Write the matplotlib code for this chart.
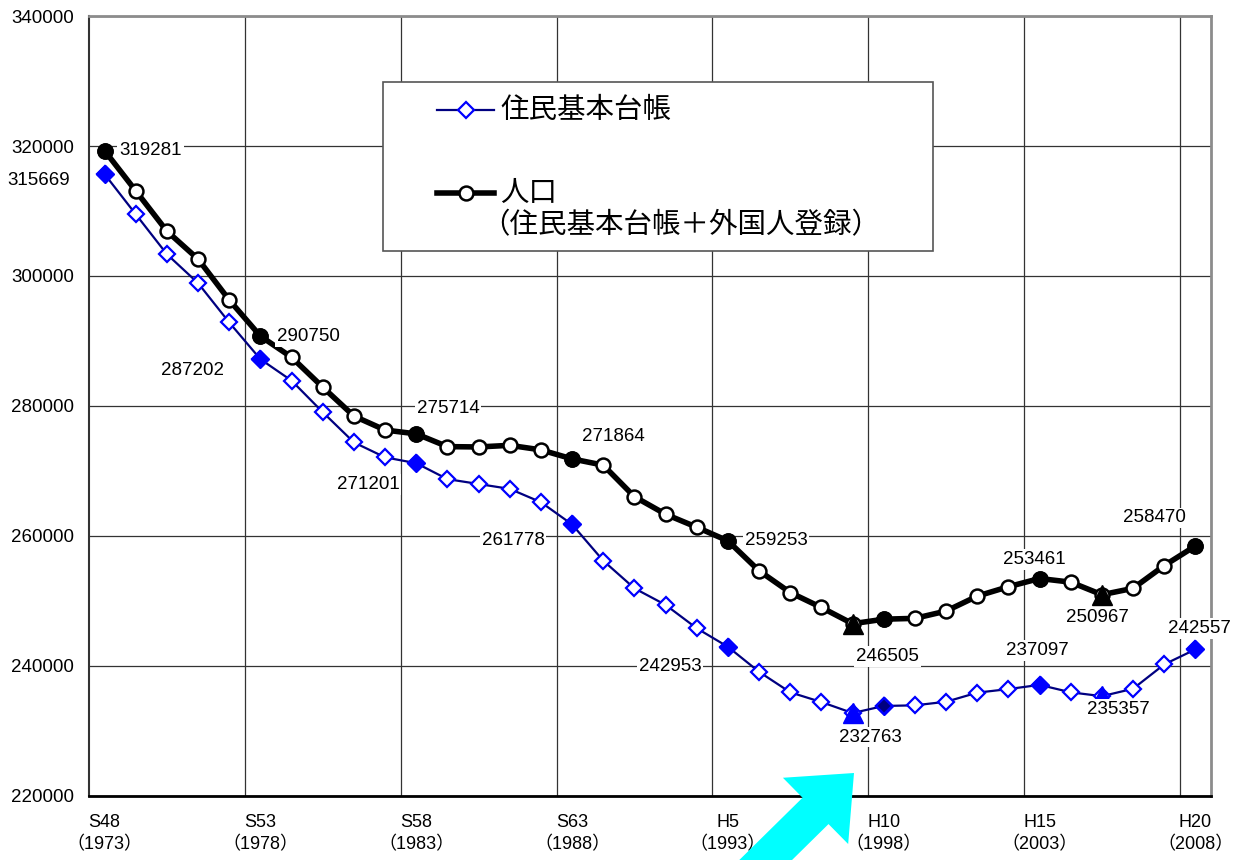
import matplotlib.pyplot as plt
import numpy as np
from matplotlib.lines import Line2D
from matplotlib.patches import FancyArrow, Rectangle

plt.rcParams["font.family"] = ["Noto Sans CJK JP", "DejaVu Sans"]
NUM_FONT = ["Liberation Sans", "Noto Sans CJK JP"]

# 年次の目盛り（5年おき）
era_labels = ["S48", "S53", "S58", "S63", "H5", "H10", "H15", "H20"]
ad_years = [1973, 1978, 1983, 1988, 1993, 1998, 2003, 2008]

# 人口（住民基本台帳＋外国人登録）S48〜H20
population = [
    319281, 313100, 306900, 302600, 296300, 290750, 287500, 282900, 278450, 276300,
    275714, 273750, 273700, 273950, 273250, 271864, 270900, 266050, 263350, 261350,
    259253, 254650, 251300, 249000, 246505, 247200, 247330, 248450, 250750, 252200,
    253461, 252900, 250967, 251950, 255450, 258470,
]

# 住民基本台帳人口 S48〜H20
registry = [
    315669, 309500, 303350, 298900, 292850, 287202, 283900, 279050, 274400, 272100,
    271201, 268750, 268000, 267250, 265200, 261778, 256200, 251950, 249400, 245800,
    242953, 239100, 235950, 234450, 232763, 233850, 233950, 234500, 235900, 236450,
    237097, 235950, 235357, 236500, 240250, 242557,
]

# 強調する点（5年おき）と谷の点
marked_idx = [0, 5, 10, 15, 20, 25, 30, 35]
low_idx = [24, 32]

# 数値ラベルの位置（点からのずれ, ピクセル）
pop_label_offsets = {0: (46, 0), 5: (48, 0), 10: (32, 25), 15: (41, 22), 20: (48, 0),
                     24: (35, -33), 30: (-5, 19), 32: (-4, -23), 35: (-41, 28)}
reg_label_offsets = {0: (-66, -6), 5: (-68, -11), 10: (-48, -21), 15: (-59, -16),
                     20: (-58, -20), 24: (18, -24), 30: (-2, 34), 32: (16, -13), 35: (4, 21)}

fig = plt.figure(figsize=(12.4, 8.6), dpi=100)
ax = fig.add_axes([89 / 1240, 1 - 796 / 860, 1122 / 1240, 780 / 860])

x = np.arange(len(population))
pop = np.array(population)
reg = np.array(registry)

# 住民基本台帳
ax.plot(x, reg, color="#000080", lw=1.6, marker="D", ms=8, mfc="white",
        mec="#0000FF", mew=1.6, zorder=4)
ax.plot(x[marked_idx], reg[marked_idx], ls="none", marker="D", ms=9,
        mfc="#0000FF", mec="#0000FF", zorder=5)
ax.plot(x[25], reg[25], ls="none", marker="D", ms=8, mfc="#000080",
        mec="#0000FF", mew=1.6, zorder=6)
ax.plot(x[low_idx], reg[low_idx], ls="none", marker="^", ms=15,
        mfc="#0000FF", mec="#0000FF", zorder=6)

# 人口（住民基本台帳＋外国人登録）
ax.plot(x, pop, color="black", lw=4, marker="o", ms=10, mfc="white",
        mec="black", mew=1.8, zorder=4)
ax.plot(x[marked_idx], pop[marked_idx], ls="none", marker="o", ms=11,
        mfc="black", mec="black", zorder=5)
ax.plot(x[low_idx], pop[low_idx], ls="none", marker="^", ms=15,
        mfc="black", mec="black", zorder=6)

label_box = dict(boxstyle="square,pad=0.1", fc="white", ec="none")
for series, offsets in ((pop, pop_label_offsets), (reg, reg_label_offsets)):
    for i, (dx, dy) in offsets.items():
        ax.annotate(f"{series[i]}", (x[i], series[i]), xytext=(dx, dy),
                    textcoords="offset pixels", ha="center", va="center",
                    fontsize=13.5, family=NUM_FONT, bbox=label_box, zorder=8)

ax.set_xlim(-0.5, len(x) - 0.5)
ax.set_ylim(220000, 340000)
ax.set_yticks(np.arange(220000, 340001, 20000))
ax.set_yticklabels([f"{v}" for v in range(220000, 340001, 20000)],
                   family=NUM_FONT, fontsize=13.5)
ax.set_xticks(np.arange(0, len(x), 5))
ax.set_xticklabels([f"{e}\n（{y}）" for e, y in zip(era_labels, ad_years)],
                   family=NUM_FONT, fontsize=13, linespacing=1.35)
ax.set_xticks(np.arange(4.5, len(x) - 1, 5), minor=True)
ax.tick_params(axis="both", which="both", length=0)
ax.tick_params(axis="y", pad=11)
ax.tick_params(axis="x", pad=13)
ax.grid(axis="y", which="major", color="#333333", lw=0.9)
ax.grid(axis="x", which="minor", color="#333333", lw=0.9)
ax.set_axisbelow(True)

for side in ("top", "right"):
    ax.spines[side].set_color("#8c8c8c")
    ax.spines[side].set_linewidth(2)
ax.spines["left"].set_color("#333333")
ax.spines["left"].set_linewidth(1.5)
ax.spines["bottom"].set_color("black")
ax.spines["bottom"].set_linewidth(2)

# 凡例の枠と見本
ax.add_patch(Rectangle((0.262, 0.6987), 0.4902, 0.2167, transform=ax.transAxes,
                       fc="white", ec="#555555", lw=1.2, zorder=3))
ax.add_line(Line2D([0.3102, 0.361], [0.8795, 0.8795], transform=ax.transAxes,
                   color="#000080", lw=1.6, zorder=4))
ax.add_line(Line2D([0.336], [0.8795], transform=ax.transAxes, marker="D", ms=8,
                   mfc="white", mec="#0000FF", mew=1.6, zorder=5))
ax.add_line(Line2D([0.3102, 0.361], [0.7731, 0.7731], transform=ax.transAxes,
                   color="black", lw=4, zorder=4))
ax.add_line(Line2D([0.336], [0.7731], transform=ax.transAxes, marker="o", ms=10,
                   mfc="white", mec="black", mew=1.8, zorder=5))
ax.text(0.3663, 0.8795, "住民基本台帳", transform=ax.transAxes, fontsize=20.5,
        ha="left", va="center", zorder=5)
ax.text(0.3663, 0.7731, "人口", transform=ax.transAxes, fontsize=20.5,
        ha="left", va="center", zorder=5)
ax.text(0.350, 0.7321, "（住民基本台帳＋外国人登録）", transform=ax.transAxes,
        fontsize=20.5, ha="left", va="center", zorder=5)

# 最少年を指す矢印
fig.patches.append(FancyArrow(7.20, -0.45, 1.34, 1.32, width=0.37, head_width=0.93,
                              head_length=0.54, length_includes_head=True,
                              transform=fig.dpi_scale_trans, color="#00FFFF",
                              lw=0, zorder=10))

fig.savefig("out.png", dpi=100)
